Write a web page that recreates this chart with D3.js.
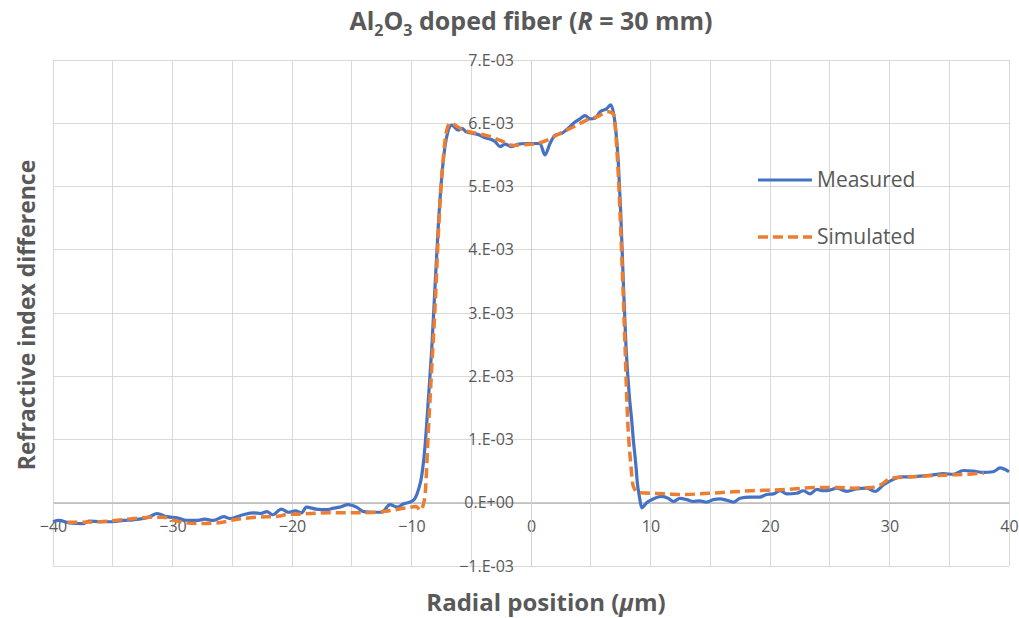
<!DOCTYPE html>
<html>
<head>
<meta charset="utf-8">
<script src="https://cdn.jsdelivr.net/npm/d3@7"></script>
<style>
  html, body { margin: 0; padding: 0; background: #fff; }
  svg { display: block; font-family: "Open Sans", "Liberation Sans", sans-serif; }
  svg text { font-family: "Open Sans", "Liberation Sans", sans-serif; }
</style>
</head>
<body>
<svg id="chart" width="1019" height="618"></svg>
<script>
// ---------------- data (refractive index difference in units of 1e-3) ----------------
const measuredX = [-40,-39.5,-38.6,-37.5,-37.0,-36,-35,-34.1,-33.3,-31.9,-31.3,-30.5,-29.6,-28.8,-28,-27.3,-26.6,-25.7,-25.2,-24.1,-23.2,-22.6,-22.1,-21.6,-20.9,-20.3,-19.7,-19.2,-18.8,-18.0,-17.1,-16.6,-16.0,-15.3,-14.6,-14.0,-13.2,-12.5,-11.8,-11.2,-10.7,-10.0,-9.7,-9.43,-9.15,-8.87,-8.59,-8.31,-8.03,-7.76,-7.47,-7.05,-6.64,-6.08,-5.80,-5.38,-4.85,-4.27,-3.85,-3.43,-3.01,-2.59,-2.18,-1.62,-1.06,-0.50,0.33,0.75,1.17,1.59,2.01,2.57,3.12,3.68,4.10,4.52,4.94,5.36,5.77,6.33,6.67,7.03,7.31,7.51,7.72,7.95,8.23,8.43,8.56,8.76,8.90,9.07,9.26,9.68,10.23,10.94,11.49,11.91,12.47,13.03,13.58,14.1,14.70,15.26,15.82,16.38,16.93,17.49,18.33,19.16,19.72,20.28,20.84,21.40,22.23,22.79,23.35,23.91,24.5,25.0,25.58,26.42,27.26,28.09,28.79,29.48,30.32,30.88,31.72,32.55,33.67,34.50,35.34,36.18,37.02,37.85,38.69,39.25,40];
const measuredY = [-0.30,-0.28,-0.32,-0.33,-0.29,-0.30,-0.30,-0.28,-0.27,-0.22,-0.17,-0.22,-0.24,-0.28,-0.28,-0.26,-0.28,-0.22,-0.25,-0.19,-0.16,-0.17,-0.14,-0.19,-0.10,-0.15,-0.13,-0.16,-0.07,-0.10,-0.11,-0.09,-0.07,-0.03,-0.07,-0.14,-0.15,-0.15,-0.03,-0.07,-0.02,0.02,0.07,0.20,0.42,0.89,1.63,2.42,3.42,4.37,5.15,5.79,5.97,5.89,5.92,5.86,5.84,5.81,5.77,5.75,5.71,5.63,5.67,5.63,5.67,5.68,5.68,5.68,5.50,5.68,5.81,5.84,5.92,6.02,6.07,6.12,6.07,6.08,6.18,6.23,6.29,6.00,5.37,4.58,3.52,2.47,1.68,1.30,1.00,0.63,0.31,0.10,-0.08,0.00,0.06,0.10,0.07,0.02,0.07,0.05,0.02,0.03,0.01,0.05,0.06,0.04,0.01,0.07,0.09,0.09,0.13,0.14,0.19,0.14,0.15,0.19,0.14,0.21,0.19,0.20,0.23,0.18,0.22,0.23,0.18,0.28,0.37,0.41,0.41,0.42,0.44,0.46,0.45,0.51,0.50,0.48,0.49,0.55,0.49];

const simulatedX = [-38.8,-36.1,-33.8,-31.9,-30.8,-29.8,-29.1,-28.0,-26.3,-24.6,-23.0,-21.0,-20.6,-19.6,-16.8,-14.6,-12.4,-10.4,-9.6,-9.25,-9.0,-8.85,-8.6,-8.3,-8.0,-7.75,-7.45,-7.05,-6.78,-5.66,-4.54,-3.43,-2.59,-1.48,-0.64,0.48,1.31,2.43,3.54,4.66,5.50,6.47,6.89,7.17,7.45,7.67,7.87,8.06,8.34,8.56,8.98,11.4,12.5,15.8,18.5,21.4,23.9,25.6,27.0,28.4,29.2,30.2,31.8,33.7,35.1,36.5,37.9];
const simulatedY = [-0.31,-0.30,-0.26,-0.23,-0.23,-0.28,-0.31,-0.33,-0.32,-0.26,-0.23,-0.21,-0.19,-0.18,-0.16,-0.16,-0.14,-0.08,-0.06,-0.12,-0.02,0.15,1.10,2.15,3.20,4.26,5.20,5.89,6.00,5.89,5.84,5.79,5.73,5.65,5.66,5.68,5.73,5.84,5.94,6.05,6.10,6.18,6.15,5.63,4.58,3.52,2.47,1.42,0.63,0.26,0.16,0.14,0.13,0.16,0.19,0.21,0.24,0.24,0.23,0.24,0.28,0.39,0.41,0.43,0.44,0.45,0.47];

const seriesNames = ["Measured", "Simulated"];
const xTicks = [-40,-30,-20,-10,0,10,20,30,40];
const xTickLabels = ["\u221240","\u221230","\u221220","\u221210","0","10","20","30","40"];
const yTicks = [-1,0,1,2,3,4,5,6,7];           // x 1e-3
const yTickLabels = ["\u22121.E-03","0.E+00","1.E-03","2.E-03","3.E-03","4.E-03","5.E-03","6.E-03","7.E-03"];
const xGrid = [-40,-35,-30,-25,-20,-15,-10,-5,0,5,10,15,20,25,30,35,40];

// ---------------- layout ----------------
const W = 1019, H = 618;
const margin = {left: 53, right: 10, top: 60, bottom: 52};
const svg = d3.select("#chart");
const textColor = "#595959";
const fontFamily = '"Open Sans", "Liberation Sans", sans-serif';
const blue = "#4472C4", orange = "#ED7D31";

const x = d3.scaleLinear().domain([-40, 40]).range([margin.left, W - margin.right]);
const y = d3.scaleLinear().domain([-1e-3, 7e-3]).range([H - margin.bottom, margin.top]);

// gridlines
svg.append("g").selectAll("line").data(xGrid).join("line")
  .attr("x1", d => x(d)).attr("x2", d => x(d))
  .attr("y1", y(7e-3)).attr("y2", y(-1e-3))
  .attr("stroke", "#d9d9d9").attr("stroke-width", 1).attr("shape-rendering", "crispEdges");
svg.append("g").selectAll("line").data(yTicks).join("line")
  .attr("x1", x(-40)).attr("x2", x(40))
  .attr("y1", d => y(d * 1e-3)).attr("y2", d => y(d * 1e-3))
  .attr("stroke", "#d9d9d9").attr("stroke-width", 1).attr("shape-rendering", "crispEdges");

// axes (crossing at zero)
const xAxis = svg.append("g").attr("transform", `translate(0,${y(0)})`)
  .call(d3.axisBottom(x).tickValues(xTicks).tickFormat((d, i) => xTickLabels[i]).tickSize(0).tickPadding(18));
xAxis.attr("font-family", fontFamily).attr("font-size", 16);
xAxis.select(".domain").attr("stroke", "#bfbfbf").attr("stroke-width", 1.3);
xAxis.selectAll("text").attr("fill", textColor);

const yAxis = svg.append("g").attr("transform", `translate(${x(0)},0)`)
  .call(d3.axisLeft(y).tickValues(yTicks.map(v => v * 1e-3)).tickFormat((d, i) => yTickLabels[i]).tickSize(0).tickPadding(17));
yAxis.attr("font-family", fontFamily).attr("font-size", 16);
yAxis.select(".domain").attr("stroke", "#d0d0d0").attr("stroke-width", 1);
yAxis.selectAll("text").attr("fill", textColor);

// lines
const measured = measuredX.map((v, i) => [v, measuredY[i] * 1e-3]);
const simulated = simulatedX.map((v, i) => [v, simulatedY[i] * 1e-3]);
const line = d3.line().x(d => x(d[0])).y(d => y(d[1])).curve(d3.curveMonotoneX);

svg.append("path").datum(measured).attr("d", line)
  .attr("fill", "none").attr("stroke", blue).attr("stroke-width", 3.2).attr("stroke-linejoin", "round");
svg.append("path").datum(simulated).attr("d", line)
  .attr("fill", "none").attr("stroke", orange).attr("stroke-width", 3.5)
  .attr("stroke-dasharray", "10,5").attr("stroke-linejoin", "round");

// legend
const legend = svg.append("g");
const legendRows = [
  {name: seriesNames[0], color: blue, dash: null, yPos: 180},
  {name: seriesNames[1], color: orange, dash: "10,5", yPos: 237}
];
legendRows.forEach(r => {
  legend.append("line").attr("x1", 758).attr("x2", 812).attr("y1", r.yPos).attr("y2", r.yPos)
    .attr("stroke", r.color).attr("stroke-width", r.dash ? 3.5 : 3.2)
    .attr("stroke-dasharray", r.dash);
  legend.append("text").attr("x", 817).attr("y", r.yPos).attr("dy", "0.35em")
    .attr("fill", textColor).style("font-size", "21px").text(r.name);
});

// title
const title = svg.append("text").attr("x", (x(-40) + x(40)) / 2).attr("y", 30)
  .attr("text-anchor", "middle").attr("fill", textColor)
  .style("font-size", "25px").style("font-weight", "bold");
title.append("tspan").text("Al");
title.append("tspan").attr("dy", 6).style("font-size", "16px").text("2");
title.append("tspan").attr("dy", -6).text("O");
title.append("tspan").attr("dy", 6).style("font-size", "16px").text("3");
title.append("tspan").attr("dy", -6).text(" doped fiber (");
title.append("tspan").style("font-style", "italic").text("R");
title.append("tspan").text(" = 30 mm)");

// axis titles
const xt = svg.append("text").attr("x", 546).attr("y", 611)
  .attr("text-anchor", "middle").attr("fill", textColor)
  .style("font-size", "24px").style("font-weight", "bold");
xt.append("tspan").text("Radial position (");
xt.append("tspan").style("font-style", "italic").text("\u03bc");
xt.append("tspan").text("m)");

svg.append("text").attr("transform", `translate(27,${315}) rotate(-90)`)
  .attr("text-anchor", "middle").attr("dy", "0.35em").attr("fill", textColor)
  .style("font-size", "23px").style("font-weight", "bold")
  .text("Refractive index difference");
</script>
</body>
</html>
